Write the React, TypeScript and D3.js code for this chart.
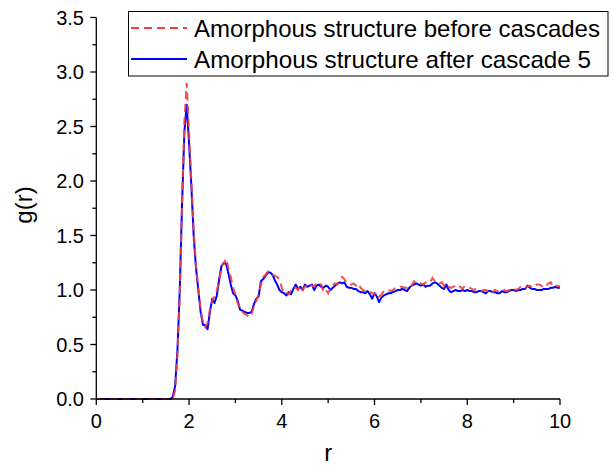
import React from "react";
import * as d3 from "d3";

const rValues = [
  0, 1.6, 1.65, 1.7, 1.75, 1.8, 1.85, 1.9, 1.95, 2.0, 2.05, 2.1, 2.15, 2.2, 2.25, 2.3, 2.35, 2.4, 2.45, 2.5,
  2.55, 2.6, 2.65, 2.7, 2.75, 2.8, 2.85, 2.9, 2.95, 3.0, 3.05, 3.1, 3.15, 3.2, 3.25, 3.3, 3.35, 3.4, 3.45, 3.5,
  3.55, 3.6, 3.65, 3.7, 3.75, 3.8, 3.85, 3.9, 3.95, 4.0, 4.05, 4.1, 4.15, 4.2, 4.25, 4.3, 4.35, 4.4, 4.45, 4.5,
  4.55, 4.6, 4.65, 4.7, 4.75, 4.8, 4.85, 4.9, 4.95, 5.0, 5.05, 5.1, 5.15, 5.2, 5.25, 5.3, 5.35, 5.4, 5.45, 5.5,
  5.55, 5.6, 5.65, 5.7, 5.75, 5.8, 5.85, 5.9, 5.95, 6.0, 6.05, 6.1, 6.15, 6.2, 6.25, 6.3, 6.35, 6.4, 6.45, 6.5,
  6.55, 6.6, 6.65, 6.7, 6.75, 6.8, 6.85, 6.9, 6.95, 7.0, 7.05, 7.1, 7.15, 7.2, 7.25, 7.3, 7.35, 7.4, 7.45, 7.5,
  7.55, 7.6, 7.65, 7.7, 7.75, 7.8, 7.85, 7.9, 7.95, 8.0, 8.05, 8.1, 8.15, 8.2, 8.25, 8.3, 8.35, 8.4, 8.45, 8.5,
  8.55, 8.6, 8.65, 8.7, 8.75, 8.8, 8.85, 8.9, 8.95, 9.0, 9.05, 9.1, 9.15, 9.2, 9.25, 9.3, 9.35, 9.4, 9.45, 9.5,
  9.55, 9.6, 9.65, 9.7, 9.75, 9.8, 9.85, 9.9, 9.95, 10.0,
];

// g(r) after cascade 5 (blue, solid)
const gAfter = [
  0, 0, 0.02, 0.12, 0.45, 1.0, 1.8, 2.45, 2.7, 2.35, 1.95, 1.5, 1.2, 1.0, 0.8, 0.68, 0.68, 0.64, 0.8, 0.92,
  0.88, 0.95, 1.1, 1.22, 1.25, 1.24, 1.15, 1.05, 0.97, 0.95, 0.9, 0.82, 0.81, 0.8, 0.79, 0.79, 0.8, 0.87, 0.92, 0.94,
  1.08, 1.1, 1.13, 1.16, 1.16, 1.14, 1.09, 1.05, 1.0, 0.98, 0.97, 0.95, 0.98, 0.96, 1.01, 1.05, 1.01, 1.03, 1.0, 1.05,
  1.03, 1.04, 1.05, 1.0, 1.04, 1.05, 1.03, 1.02, 1.04, 1.03, 1.0, 1.02, 1.04, 1.06, 1.07, 1.06, 1.07, 1.03, 1.02, 1.02,
  1.01, 1.01, 0.99, 0.98, 0.98, 0.97, 0.99, 0.96, 0.92, 0.97, 0.94, 0.89, 0.93, 0.95, 0.96, 0.97, 0.97, 0.98, 0.99, 1.0,
  1.0, 1.01, 1.0, 0.99, 1.02, 1.04, 1.05, 1.06, 1.05, 1.04, 1.05, 1.03, 1.04, 1.04, 1.06, 1.07, 1.06, 1.04, 1.02, 1.01,
  1.05, 1.0, 0.98, 0.99, 1.0, 0.99, 0.99, 1.0, 0.99, 1.0, 0.99, 0.99, 0.98, 0.98, 0.99, 0.99, 0.98, 0.97, 0.99, 0.99,
  0.98, 0.98, 0.97, 0.97, 0.99, 0.98, 0.98, 0.99, 1.0, 1.0, 0.99, 1.0, 1.0, 1.01, 1.01, 1.04, 1.02, 1.01, 1.01, 1.0,
  1.0, 1.0, 1.01, 1.01, 1.01, 1.02, 1.02, 1.03, 1.02, 1.02,
];

// g(r) before cascades (red, dashed)
const gBefore = [
  0, 0, 0.0, 0.08, 0.4, 0.95, 1.8, 2.55, 2.9, 2.45, 2.0, 1.55, 1.22, 1.02, 0.82, 0.7, 0.66, 0.7, 0.82, 0.9,
  0.94, 1.0, 1.08, 1.22, 1.24, 1.29, 1.2, 1.12, 1.02, 0.96, 0.88, 0.83, 0.8, 0.78, 0.77, 0.75, 0.78, 0.85, 0.9, 0.96,
  1.05, 1.12, 1.14, 1.17, 1.16, 1.14, 1.13, 1.12, 1.1, 1.02, 0.97, 0.98, 0.96, 1.0, 1.03, 1.02, 1.0, 1.04, 1.0, 1.03,
  1.05, 1.06, 1.04, 1.03, 1.07, 1.06, 1.05, 0.98, 1.0, 0.97, 1.02, 1.04, 1.06, 1.05, 1.08, 1.12, 1.1, 1.06, 1.06, 1.05,
  1.06, 1.04, 1.06, 1.02, 1.0, 0.99, 1.0, 0.98, 0.97, 0.96, 0.98, 0.94, 0.96, 0.99, 1.0, 1.0, 0.99, 1.0, 1.02, 1.02,
  1.03, 1.03, 1.02, 1.02, 1.05, 1.04, 1.08, 1.06, 1.07, 1.06, 1.05, 1.07, 1.06, 1.07, 1.11, 1.08, 1.07, 1.06, 1.07, 1.04,
  1.06, 1.03, 1.02, 1.03, 1.04, 1.02, 1.03, 1.01, 1.04, 1.03, 1.02, 1.01, 1.0, 1.01, 1.0, 0.99, 1.0, 1.0, 0.99, 1.0,
  0.98, 1.0, 0.99, 0.98, 0.98, 1.0, 0.99, 1.0, 0.99, 1.01, 1.0, 1.01, 1.03, 1.04, 1.02, 1.03, 1.04, 1.02, 1.03, 1.05,
  1.05, 1.04, 1.02, 1.04, 1.06, 1.07, 1.03, 1.04, 1.04, 1.03,
];

const xTicksMajor = [0, 2, 4, 6, 8, 10];
const xTicksMinor = [1, 3, 5, 7, 9];
const yTicksMajor = [0, 0.5, 1.0, 1.5, 2.0, 2.5, 3.0, 3.5];
const yTicksMinor = [0.25, 0.75, 1.25, 1.75, 2.25, 2.75, 3.25];

const legendLabels = ["Amorphous structure before cascades", "Amorphous structure after cascade 5"];
const xLabel = "r";
const yLabel = "g(r)";

const W = 613;
const H = 467;
const FONT = "'Liberation Sans', Arial, Helvetica, sans-serif";
const RED = "#f23f3f";
const BLUE = "#0000ff";

export default function App() {
  const x = d3.scaleLinear().domain([0, 10]).range([96.3, 560]);
  const y = d3.scaleLinear().domain([0, 3.5]).range([399, 17.5]);

  const line = d3
    .line<number>()
    .x((_, i) => x(rValues[i]))
    .y((d) => y(d));

  const x0 = x(0);
  const y0 = y(0);

  return (
    <div style={{ position: "absolute", left: 0, top: 0 }}>
      <svg width={W} height={H} style={{ display: "block", background: "#fff" }}>
        {/* data */}
        <path d={line(gAfter) || ""} fill="none" stroke={BLUE} strokeWidth={2} strokeLinejoin="round" />
        <path
          d={line(gBefore) || ""}
          fill="none"
          stroke={RED}
          strokeOpacity={0.9}
          strokeWidth={2}
          strokeDasharray="8,5"
        />

        {/* axes */}
        <line x1={x0} x2={x(10)} y1={y0} y2={y0} stroke="#000" strokeWidth={1.3} />
        <line x1={x0} x2={x0} y1={y0} y2={y(3.5)} stroke="#000" strokeWidth={1.3} />
        {xTicksMajor.map((t) => (
          <g key={"xM" + t}>
            <line x1={x(t)} x2={x(t)} y1={y0} y2={y0 + 6} stroke="#000" strokeWidth={1.3} />
            <text x={x(t)} y={428} textAnchor="middle" fontFamily={FONT} fontSize={20} fill="#000">
              {t}
            </text>
          </g>
        ))}
        {xTicksMinor.map((t) => (
          <line key={"xm" + t} x1={x(t)} x2={x(t)} y1={y0} y2={y0 + 4} stroke="#000" strokeWidth={1.3} />
        ))}
        {yTicksMajor.map((t) => (
          <g key={"yM" + t}>
            <line x1={x0 - 6} x2={x0} y1={y(t)} y2={y(t)} stroke="#000" strokeWidth={1.3} />
            <text x={84} y={y(t) + 7} textAnchor="end" fontFamily={FONT} fontSize={20} fill="#000">
              {t.toFixed(1)}
            </text>
          </g>
        ))}
        {yTicksMinor.map((t) => (
          <line key={"ym" + t} x1={x0 - 4} x2={x0} y1={y(t)} y2={y(t)} stroke="#000" strokeWidth={1.3} />
        ))}

        {/* axis labels */}
        <text x={(x0 + x(10)) / 2} y={461} textAnchor="middle" fontFamily={FONT} fontSize={24} fill="#000">
          {xLabel}
        </text>
        <text
          transform={`translate(32,205) rotate(-90)`}
          textAnchor="middle"
          fontFamily={FONT}
          fontSize={24}
          fill="#000"
        >
          {yLabel}
        </text>

        {/* legend */}
        <rect x={128.5} y={11.5} width={479.5} height={64.5} fill="#fff" stroke="#000" strokeWidth={1} />
        <line x1={131} x2={187} y1={28} y2={28} stroke={RED} strokeWidth={2} strokeDasharray="8,5" />
        <line x1={131} x2={187} y1={59} y2={59} stroke={BLUE} strokeWidth={2} />
        <text x={194} y={37} fontFamily={FONT} fontSize={24} fill="#000" textLength={406} lengthAdjust="spacingAndGlyphs">
          {legendLabels[0]}
        </text>
        <text x={194} y={68} fontFamily={FONT} fontSize={24} fill="#000" textLength={397} lengthAdjust="spacingAndGlyphs">
          {legendLabels[1]}
        </text>
      </svg>
    </div>
  );
}
